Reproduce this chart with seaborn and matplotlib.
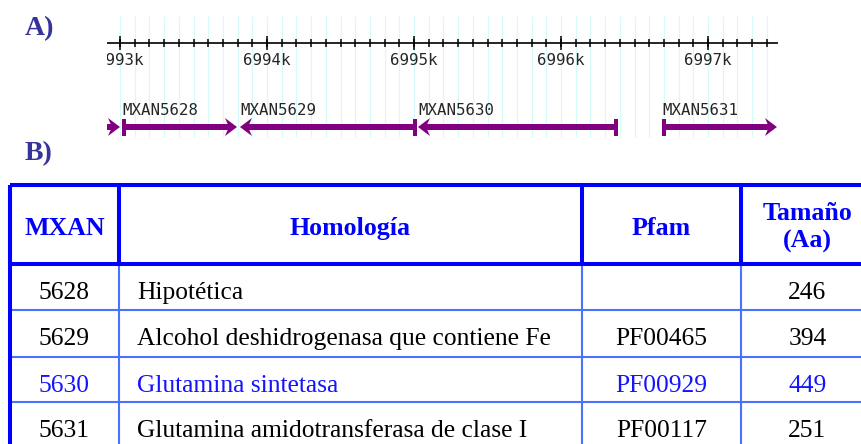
import numpy as np
import matplotlib
matplotlib.use("Agg")
import matplotlib.pyplot as plt
import seaborn as sns

sns.set_theme(style="white")
plt.rcParams['font.family'] = ['DejaVu Sans']

# panel A: genes (kb)
gene_names = ["MXAN5627", "MXAN5628", "MXAN5629", "MXAN5630", "MXAN5631"]
gene_start = [6992.20, 6993.014, 6993.816, 6995.027, 6996.687]
gene_end = [6993.000, 6993.796, 6995.020, 6996.388, 6997.469]
gene_strand = ["+", "+", "-", "-", "+"]
major_kb = [6993, 6994, 6995, 6996, 6997]

# panel B: table
headers = ["MXAN", "Homología", "Pfam", "Tamaño\n(Aa)"]
mxan_ids = ["5628", "5629", "5630", "5631"]
homologia = ["Hipotética",
             "Alcohol deshidrogenasa que contiene Fe",
             "Glutamina sintetasa",
             "Glutamina amidotransferasa de clase I"]
pfam = ["", "PF00465", "PF00929", "PF00117"]
tamano = ["246", "394", "449", "251"]
highlight = "5630"

W, H = 862, 444
fig = plt.figure(figsize=(W / 100, H / 100), dpi=100)

# background axes in pixel coords
ax = fig.add_axes([0, 0, 1, 1])
ax.set_xlim(0, W)
ax.set_ylim(H, 0)
ax.axis("off")

serif = "Liberation Serif"
label_col = "#34349a"
ax.text(25, 35, "A)", family=serif, weight="bold", fontsize=20, color=label_col, va="baseline")
ax.text(25, 160, "B)", family=serif, weight="bold", fontsize=20, color=label_col, va="baseline")

# ---- genome track ----
ppk = 147.0  # pixels per kb
px = 1 / ppk
x0_px, x1_px = 107, 780
ax_g = fig.add_axes([x0_px / W, 0, (x1_px - x0_px) / W, 1])
kb_left = 6993 - (120 - x0_px) / ppk
kb_right = 6993 + (x1_px - 120) / ppk
ax_g.set_xlim(kb_left, kb_right)
ax_g.set_ylim(H, 0)
ax_g.axis("off")

minor = np.arange(69929, 69975) / 10.0
ax_g.vlines(minor, 16, 137, color="#d6fafa", lw=0.8, zorder=0)

ax_g.hlines(43, kb_left, 6997 + 70 / ppk, color="black", lw=1.2, zorder=2)
ax_g.vlines(minor, 39, 47, color="black", lw=1.1, zorder=2)
ax_g.vlines(major_kb, 36, 50, color="black", lw=1.1, zorder=2)
for k in major_kb:
    ax_g.text(k, 65, f"{k}k", family="DejaVu Sans Mono", fontsize=11.3,
              ha="center", va="baseline", clip_on=True)

purple = "#800080"
yg = 127
L, N, hh = 12 * px, 4 * px, 9
for name, s, e, strand in zip(gene_names, gene_start, gene_end, gene_strand):
    if strand == "+":
        bar = (s, s + 4 * px)
        head = [(e, yg), (e - L, yg - hh), (e - L + N, yg), (e - L, yg + hh)]
        shaft = (s, e - L + N)
    else:
        bar = (e - 4 * px, e)
        head = [(s, yg), (s + L, yg - hh), (s + L - N, yg), (s + L, yg + hh)]
        shaft = (s + L - N, e)
    ax_g.hlines(yg, shaft[0], shaft[1], color=purple, lw=4.3, zorder=3)
    ax_g.fill_between(bar, yg - 8.5, yg + 8.5, color=purple, lw=0, zorder=3)
    ax_g.fill([p[0] for p in head], [p[1] for p in head], color=purple, lw=0, zorder=3)
    ax_g.text(min(s, e), 115, name, family="DejaVu Sans Mono", fontsize=11.3,
              ha="left", va="baseline", clip_on=True)

# ---- table ----
col_edges = [10, 119, 582, 741, 874]
row_edges = [185, 264, 310, 357, 402, 449]
blue = "#0000ff"
thin = "#4a72ff"

ax.hlines(row_edges[2:-1], col_edges[0], col_edges[-1], color=thin, lw=1.5, zorder=1)
ax.vlines(col_edges[1:-1], row_edges[1], row_edges[-1], color=thin, lw=1.5, zorder=1)
ax.hlines([row_edges[0], row_edges[1]], col_edges[0], col_edges[-1], color=blue, lw=2.9, zorder=2)
ax.vlines(col_edges, row_edges[0], row_edges[1], color=blue, lw=2.9, zorder=2)
ax.vlines(col_edges[0], row_edges[0], H + 5, color=blue, lw=2.9, zorder=2)

centers = [(a + b) / 2 for a, b in zip(col_edges[:-1], col_edges[1:])]
for i, h in enumerate(headers):
    lines = h.split("\n")
    ys = [235] if len(lines) == 1 else [220, 248]
    for ln, yy in zip(lines, ys):
        ax.text(centers[i], yy, ln, family=serif, weight="bold", fontsize=18.6,
                color=blue, ha="center", va="baseline")

for r, (m, hom, pf, t) in enumerate(zip(mxan_ids, homologia, pfam, tamano)):
    yb = row_edges[r + 1] + 35
    c = "#1414ff" if m == highlight else "black"
    kw = dict(family=serif, fontsize=18.4, color=c, va="baseline")
    ax.text(centers[0], yb, m, ha="center", **kw)
    ax.text(col_edges[1] + 18, yb, hom, ha="left", **kw)
    ax.text(centers[2], yb, pf, ha="center", **kw)
    ax.text(centers[3], yb, t, ha="center", **kw)

fig.savefig("out.png", dpi=100, facecolor="white")
